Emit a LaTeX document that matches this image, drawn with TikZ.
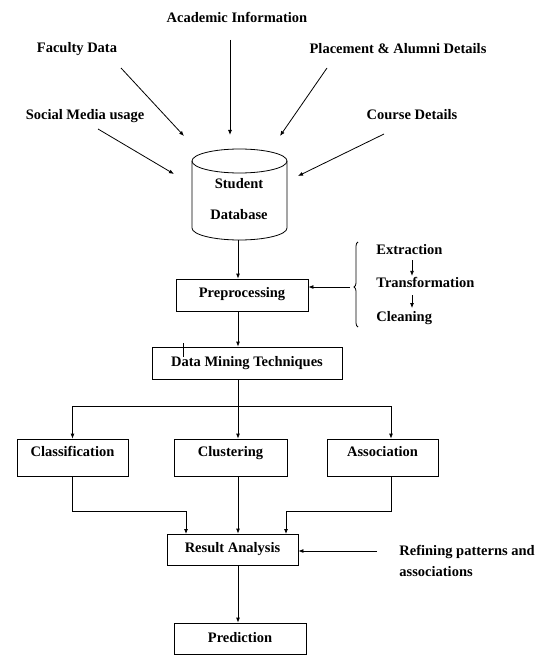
\documentclass[tikz,border=0pt]{standalone}
\usepackage{fontspec}
\setmainfont{Liberation Serif}
\usetikzlibrary{arrows.meta,decorations.pathreplacing}
\begin{document}
\begin{tikzpicture}[x=1pt,y=-1pt,
  font=\fontsize{14.5}{17}\selectfont\bfseries,
  line width=0.8pt,
  arr/.style={-{Latex[length=5pt,width=4pt]}},
  bx/.style={draw, inner xsep=2pt, inner ysep=0pt},
  lbl/.style={inner sep=1pt}]
\useasboundingbox (0,0) rectangle (549,655);

% source labels
\node[lbl] (acad) at (237,17) {Academic Information};
\node[lbl] (fac) at (77,49) {Faculty Data};
\node[lbl] (plac) at (398,49) {Placement \& Alumni Details};
\node[lbl] (soc) at (85,116) {Social Media usage};
\node[lbl] (course) at (412,115) {Course Details};

\coordinate (s1) at (230,40);  \coordinate (e1) at (230,135);
\coordinate (s2) at (121,68);  \coordinate (e2) at (184,136);
\coordinate (s3) at (327,68);  \coordinate (e3) at (280,136);
\coordinate (s4) at (98,129);  \coordinate (e4) at (174,174);
\coordinate (s5) at (384,134); \coordinate (e5) at (298,176);
\draw[arr] (s1) -- (e1);
\draw[arr] (s2) -- (e2);
\draw[arr] (s3) -- (e3);
\draw[arr] (s4) -- (e4);
\draw[arr] (s5) -- (e5);

% database cylinder
\draw (239.5,161) ellipse [x radius=47.5pt, y radius=12pt];
\draw (192,161) -- (192,228) arc [start angle=180, end angle=360, x radius=47.5pt, y radius=12pt] -- (287,161);
\node[lbl, align=center, font=\fontsize{14.5}{31}\selectfont\bfseries] (db) at (239,199) {Student\\Database};
\coordinate (dbb) at (238,240);
\coordinate (spine) at (238,0);

% boxes
\node[bx, minimum width=132pt, text height=18.5pt, text depth=13.5pt] (pre) at (242,295) {Preprocessing};
\node[bx, minimum width=190pt, text height=19.5pt, text depth=12.5pt] (dmt) at (247,363) {Data Mining Techniques};
\node[bx, minimum width=111pt, text height=17.5pt, text depth=19.5pt] (class) at (72.5,457.5) {Classification};
\node[bx, minimum width=113pt, text height=17.5pt, text depth=19.5pt] (clust) at (230.5,457.5) {Clustering};
\node[bx, minimum width=111pt, text height=17.5pt, text depth=19.5pt] (assoc) at (382.5,457.5) {Association};
\node[bx, minimum width=131pt, text height=18.5pt, text depth=12.5pt] (ra) at (232.5,549.5) {Result Analysis};
\node[bx, minimum width=132pt, text height=19.5pt, text depth=11.5pt] (pred) at (240,638.5) {Prediction};

% preprocessing steps
\node[lbl, anchor=base west] (ext) at (375,254.5) {Extraction};
\node[lbl, anchor=base west] (tra) at (375,287.5) {Transformation};
\node[lbl, anchor=base west] (cle) at (375,321.5) {Cleaning};
\coordinate (ax) at (412,0);
\draw[arr, shorten <=4pt] (ext.south -| ax) -- (tra.north -| ax);
\draw[arr, shorten <=6pt, shorten >=2pt] (tra.south -| ax) -- (cle.north -| ax);
\draw[decorate, decoration={brace, amplitude=4pt, aspect=0.47}] (358,327) -- (358,242);
\coordinate (bt) at (350,287);
\draw[arr] (bt) -- (bt -| pre.east);

% main flow
\draw[arr] (dbb) -- (pre.north -| spine);
\draw[arr] (pre.south -| spine) -- (dmt.north -| spine);
\draw (183,343) -- (183,357);
\draw[arr] (dmt.south -| spine) -- (clust.north -| spine);
\coordinate (br) at (238,406);
\coordinate (aspine) at (391,0);
\draw[arr] (br) -| (class.north);
\draw[arr] (br) -| (assoc.north -| aspine);

\coordinate (ra1) at (186,534);
\coordinate (ra3) at (286,534);
\draw[arr] (class.south) -- ++(0,35) -| (ra1);
\draw[arr] (clust.south -| spine) -- (ra.north -| spine);
\draw[arr] (assoc.south -| aspine) -- ++(0,35) -| (ra3);

% refining
\node[lbl, anchor=north west, align=left, font=\fontsize{14.5}{21}\selectfont\bfseries] (ref) at (398,544) {Refining patterns and\\associations};
\coordinate (rs) at (377,551);
\draw[arr] (rs) -- (rs -| ra.east);

\draw[arr] (ra.south -| spine) -- (pred.north -| spine);
\end{tikzpicture}
\end{document}
